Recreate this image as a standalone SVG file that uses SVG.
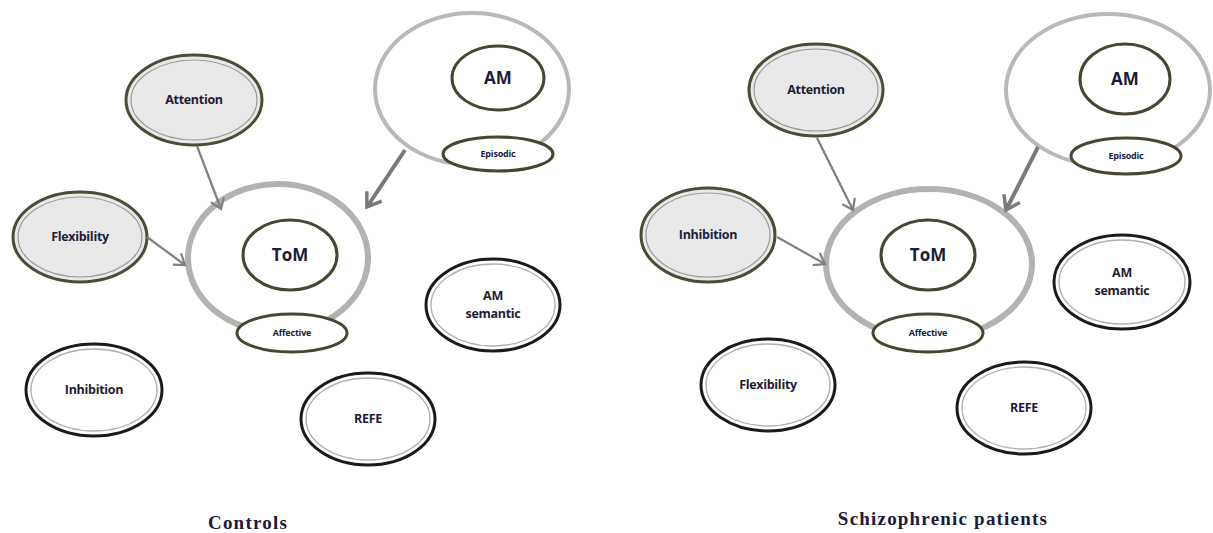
<svg xmlns="http://www.w3.org/2000/svg" width="1213" height="533" viewBox="0 0 1213 533">
  <defs>
    <marker id="chev" markerUnits="userSpaceOnUse" markerWidth="20" markerHeight="20" refX="14" refY="10" orient="auto">
      <path d="M4,3 L14,10 L4,17" fill="none" stroke="#808080" stroke-width="2.2"/>
    </marker>
    <marker id="chevBold" markerUnits="userSpaceOnUse" markerWidth="26" markerHeight="26" refX="18" refY="13" orient="auto">
      <path d="M5,4 L18,13 L5,22" fill="none" stroke="#7a7a7a" stroke-width="3.5"/>
    </marker>
  </defs>
  <style>
    .bg { fill: #ffffff; }
    .grey-out { fill: #e9e9e9; stroke: #4e4a36; stroke-width: 3; }
    .grey-in { fill: none; stroke: #9a9a9a; stroke-width: 1.2; }
    .white-out { fill: #ffffff; stroke: #1a1a1a; stroke-width: 3; }
    .white-in { fill: none; stroke: #b0b0b0; stroke-width: 1.4; }
    .ring { fill: #ffffff; stroke: #b2b2b2; stroke-width: 6; }
    .ring-thin { fill: #ffffff; stroke: #b8b8b8; stroke-width: 4; }
    .inner { fill: #ffffff; stroke: #4a4530; stroke-width: 3; }
    .lbl { font-family: "Open Sans", "Liberation Sans", sans-serif; font-weight: bold; fill: #1c1c36; text-anchor: middle; }
    .lbl-md { font-size: 12.5px; letter-spacing: -0.3px; }
    .lbl-lg { font-size: 17px; }
    .lbl-sm { font-size: 9px; letter-spacing: -0.2px; }
    .cap { font-family: "Liberation Serif", serif; font-weight: bold; font-size: 19px; letter-spacing: 1.2px; fill: #1a1a3a; text-anchor: middle; }
    .conn { fill: none; stroke: #808080; stroke-width: 2.2; }
    .conn-bold { fill: none; stroke: #7a7a7a; stroke-width: 4; }
  </style>
  <rect class="bg" x="0" y="0" width="1213" height="533"/>

  <!-- Controls panel -->
  <g id="c-am">
    <ellipse class="ring-thin" cx="472" cy="89" rx="97" ry="76"/>
    <ellipse class="inner" cx="498" cy="78" rx="46" ry="32"/>
    <text class="lbl lbl-lg" x="498" y="84">AM</text>
    <ellipse class="inner" cx="498" cy="154" rx="55" ry="17"/>
    <text class="lbl lbl-sm" x="498" y="157">Episodic</text>
  </g>
  <g id="c-tom">
    <ellipse class="ring" cx="278" cy="258" rx="90" ry="74"/>
    <ellipse class="inner" cx="290" cy="255" rx="47" ry="35"/>
    <text class="lbl lbl-lg" x="290" y="261">ToM</text>
    <ellipse class="inner" cx="292" cy="333" rx="55" ry="19"/>
    <text class="lbl lbl-sm" x="292" y="336">Affective</text>
  </g>
  <g id="c-attention">
    <ellipse class="grey-out" cx="194" cy="100" rx="68" ry="45"/>
    <ellipse class="grey-in" cx="194" cy="100" rx="63" ry="40"/>
    <text class="lbl lbl-md" x="194" y="104">Attention</text>
  </g>
  <g id="c-flexibility">
    <ellipse class="grey-out" cx="80" cy="237" rx="67" ry="45"/>
    <ellipse class="grey-in" cx="80" cy="237" rx="62" ry="40"/>
    <text class="lbl lbl-md" x="80" y="241">Flexibility</text>
  </g>
  <g id="c-inhibition">
    <ellipse class="white-out" cx="94" cy="390" rx="68" ry="46"/>
    <ellipse class="white-in" cx="94" cy="390" rx="63" ry="41"/>
    <text class="lbl lbl-md" x="94" y="394">Inhibition</text>
  </g>
  <g id="c-refe">
    <ellipse class="white-out" cx="368" cy="419" rx="67" ry="46"/>
    <ellipse class="white-in" cx="368" cy="419" rx="62" ry="41"/>
    <text class="lbl lbl-md" x="368" y="423">REFE</text>
  </g>
  <g id="c-amsem">
    <ellipse class="white-out" cx="493" cy="305" rx="67" ry="46"/>
    <ellipse class="white-in" cx="493" cy="305" rx="62" ry="41"/>
    <text class="lbl lbl-md" x="493" y="300">AM</text>
    <text class="lbl lbl-md" x="493" y="318">semantic</text>
  </g>
  <text class="cap" x="248" y="529">Controls</text>

  <!-- Schizophrenic patients panel -->
  <g id="p-am">
    <ellipse class="ring-thin" cx="1108" cy="90" rx="102" ry="76"/>
    <ellipse class="inner" cx="1125" cy="79" rx="45" ry="35"/>
    <text class="lbl lbl-lg" x="1125" y="85">AM</text>
    <ellipse class="inner" cx="1126" cy="156" rx="55" ry="18"/>
    <text class="lbl lbl-sm" x="1126" y="159">Episodic</text>
  </g>
  <g id="p-tom">
    <ellipse class="ring" cx="929" cy="264" rx="103" ry="75"/>
    <ellipse class="inner" cx="928" cy="255" rx="47" ry="35"/>
    <text class="lbl lbl-lg" x="928" y="261">ToM</text>
    <ellipse class="inner" cx="928" cy="333" rx="55" ry="19"/>
    <text class="lbl lbl-sm" x="928" y="336">Affective</text>
  </g>
  <g id="p-attention">
    <ellipse class="grey-out" cx="816" cy="90" rx="67" ry="46"/>
    <ellipse class="grey-in" cx="816" cy="90" rx="62" ry="41"/>
    <text class="lbl lbl-md" x="816" y="94">Attention</text>
  </g>
  <g id="p-inhibition">
    <ellipse class="grey-out" cx="708" cy="235" rx="67" ry="47"/>
    <ellipse class="grey-in" cx="708" cy="235" rx="62" ry="42"/>
    <text class="lbl lbl-md" x="708" y="239">Inhibition</text>
  </g>
  <g id="p-flexibility">
    <ellipse class="white-out" cx="768" cy="385" rx="67" ry="46"/>
    <ellipse class="white-in" cx="768" cy="385" rx="62" ry="41"/>
    <text class="lbl lbl-md" x="768" y="389">Flexibility</text>
  </g>
  <g id="p-refe">
    <ellipse class="white-out" cx="1024" cy="408" rx="67" ry="46"/>
    <ellipse class="white-in" cx="1024" cy="408" rx="62" ry="41"/>
    <text class="lbl lbl-md" x="1024" y="412">REFE</text>
  </g>
  <g id="p-amsem">
    <ellipse class="white-out" cx="1122" cy="282" rx="68" ry="47"/>
    <ellipse class="white-in" cx="1122" cy="282" rx="63" ry="42"/>
    <text class="lbl lbl-md" x="1122" y="277">AM</text>
    <text class="lbl lbl-md" x="1122" y="295">semantic</text>
  </g>
  <text class="cap" x="943" y="525">Schizophrenic patients</text>

  <!-- connectors -->
  <g id="connectors">
    <line class="conn" x1="197" y1="146" x2="221" y2="209" marker-end="url(#chev)"/>
    <line class="conn" x1="147" y1="237" x2="185" y2="265" marker-end="url(#chev)"/>
    <line class="conn-bold" x1="405" y1="150" x2="367" y2="207" marker-end="url(#chevBold)"/>
    <line class="conn" x1="817" y1="138" x2="853" y2="210" marker-end="url(#chev)"/>
    <line class="conn" x1="777" y1="237" x2="825" y2="264" marker-end="url(#chev)"/>
    <line class="conn-bold" x1="1038" y1="147" x2="1006" y2="210" marker-end="url(#chevBold)"/>
  </g>
</svg>
